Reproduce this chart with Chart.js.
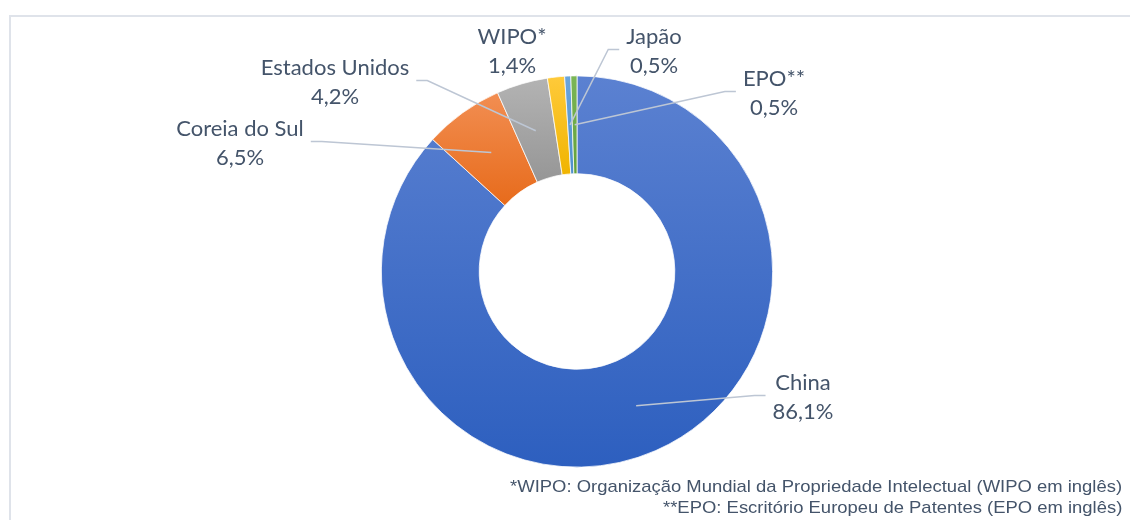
<!DOCTYPE html>
<html>
<head>
<meta charset="utf-8">
<script src="https://cdn.jsdelivr.net/npm/chart.js@4"></script>
<style>
  html, body { margin: 0; padding: 0; background: #fff; }
  #wrap { position: relative; width: 1130px; height: 520px; overflow: hidden; }
  #frame { position: absolute; left: 9px; top: 15px; width: 1200px; height: 600px; border: 2px solid #dfe3ea; box-sizing: border-box; }
  #chart { position: absolute; left: 0; top: 0; }
  .note { position: absolute; right: 8px; font-family: "Liberation Sans", Arial, sans-serif; font-size: 17px; color: #44546a; text-align: right; white-space: nowrap; transform: scaleX(1.085); transform-origin: right center; }
</style>
</head>
<body>
<div id="wrap">
  <div id="frame"></div>
  <canvas id="chart" width="1130" height="520"></canvas>
  <div class="note" style="top:477px">*WIPO: Organização Mundial da Propriedade Intelectual (WIPO em inglês)</div>
  <div class="note" style="top:498px">**EPO: Escritório Europeu de Patentes (EPO em inglês)</div>
</div>
<script>
// data (percent)
var countries = ['China', 'Coreia do Sul', 'Estados Unidos', 'WIPO*', 'Japão', 'EPO**'];
var shares = [86.1, 6.5, 4.2, 1.4, 0.5, 0.5];

// slice colours: base, light top, dark bottom
var baseColors = ['#4472c4', '#ed7d31', '#a5a5a5', '#ffc000', '#5b9bd5', '#70ad47'];
var topColors = ['#5b81d1', '#f28e52', '#b3b3b3', '#ffca3a', '#6aa5dc', '#7bb656'];
var bottomColors = ['#2d5fbf', '#e76b1b', '#969696', '#f0b400', '#4f8fcb', '#62a03b'];

// label block centres, offset from the doughnut centre; side the leader line leaves from
var labelOffsets = [[226, 126], [-337, -128], [-242, -189], [-65, -220], [77, -220], [197, -178]];
var leaderSide = ['left', 'right', 'right', null, 'left', 'left'];

var labelFont = '22px Lato, "Open Sans", sans-serif';
var textColor = '#44546a';

// per-slice vertical gradient, like the Excel fill
var sliceGradients = {
  id: 'sliceGradients',
  beforeDatasetsDraw: function(chart) {
    var ctx = chart.ctx;
    chart.getDatasetMeta(0).data.forEach(function(arc, i) {
      var p = arc.getProps(['x', 'y', 'startAngle', 'endAngle', 'innerRadius', 'outerRadius'], true);
      var ys = [];
      [p.innerRadius, p.outerRadius].forEach(function(r) {
        ys.push(p.y + r * Math.sin(p.startAngle));
        ys.push(p.y + r * Math.sin(p.endAngle));
      });
      // include extreme points if the arc crosses top / bottom
      [-Math.PI / 2, Math.PI / 2, 3 * Math.PI / 2].forEach(function(a) {
        if (a > p.startAngle && a < p.endAngle) ys.push(p.y + p.outerRadius * Math.sin(a));
      });
      var top = Math.min.apply(null, ys), bottom = Math.max.apply(null, ys);
      var g = ctx.createLinearGradient(0, top, 0, bottom);
      g.addColorStop(0, topColors[i]);
      g.addColorStop(1, bottomColors[i]);
      arc.options.backgroundColor = g;
    });
  }
};

// data labels with leader lines
var sliceLabels = {
  id: 'sliceLabels',
  afterDatasetsDraw: function(chart) {
    var ctx = chart.ctx;
    var meta = chart.getDatasetMeta(0);
    ctx.save();
    ctx.font = labelFont;
    ctx.textAlign = 'center';
    ctx.textBaseline = 'middle';
    meta.data.forEach(function(arc, i) {
      var cx = arc.x + labelOffsets[i][0];
      var cy = arc.y + labelOffsets[i][1];
      var line1 = countries[i];
      var line2 = shares[i].toFixed(1).replace('.', ',') + '%';
      var w = Math.max(ctx.measureText(line1).width, ctx.measureText(line2).width);

      if (leaderSide[i]) {
        var pos = arc.tooltipPosition(true);
        var dir = leaderSide[i] === 'left' ? -1 : 1;
        var ax = cx + dir * (w / 2 + 7);
        var ay = cy - 2;
        ctx.strokeStyle = '#bdc6d4';
        ctx.lineWidth = 1.5;
        ctx.beginPath();
        ctx.moveTo(ax, ay);
        ctx.lineTo(ax + dir * 11, ay);
        ctx.lineTo(pos.x, pos.y);
        ctx.stroke();
      }

      ctx.fillStyle = textColor;
      ctx.fillText(line1, cx, cy - 14.5);
      ctx.fillText(line2, cx, cy + 14.5);
    });
    ctx.restore();
  }
};

new Chart(document.getElementById('chart'), {
  type: 'doughnut',
  data: {
    labels: countries,
    datasets: [{
      data: shares,
      backgroundColor: baseColors,
      borderColor: '#ffffff',
      borderWidth: 0.75,
      hoverOffset: 0
    }]
  },
  options: {
    responsive: false,
    animation: false,
    cutout: '50%',
    layout: { padding: { left: 381, right: 357, top: 75.5, bottom: 52.5 } },
    plugins: {
      legend: { display: false },
      title: { display: false },
      tooltip: { enabled: false }
    }
  },
  plugins: [sliceGradients, sliceLabels]
});
</script>
</body>
</html>
